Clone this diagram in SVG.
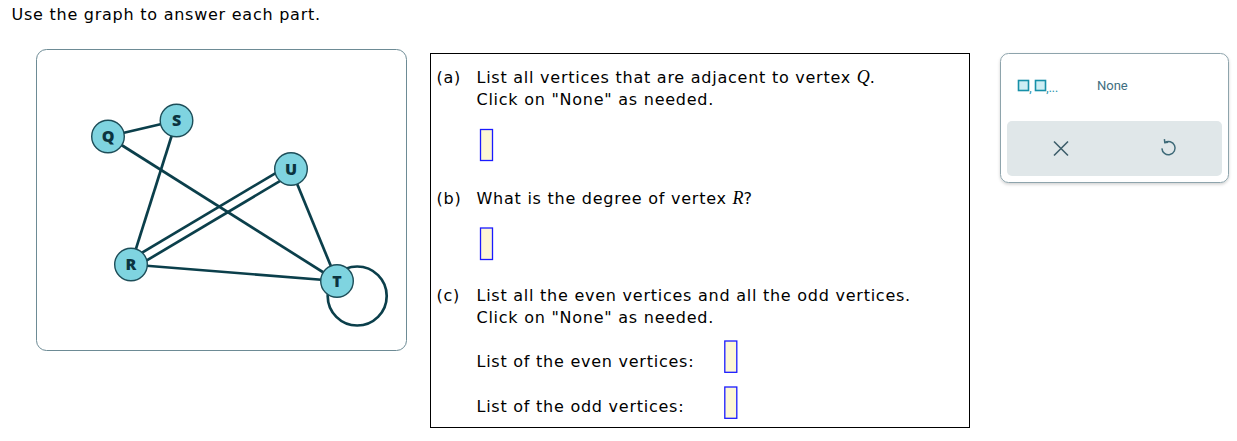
<svg xmlns="http://www.w3.org/2000/svg" width="1237" height="441" viewBox="0 0 1237 441">
<defs>
<style>
.t{font-family:"DejaVu Sans",Verdana,sans-serif;font-size:16px;letter-spacing:0.75px;fill:#000}
.m{font-family:"Liberation Serif",serif;font-style:italic;font-size:18px;letter-spacing:0}
.e{stroke:#0b3f4b;stroke-width:2.7;fill:none}
.n{fill:#7fd4e0;stroke:#1d4d58;stroke-width:1.4}
.nl{font-family:"Open Sans","Noto Sans",sans-serif;font-weight:800;font-size:16px;fill:#0b3440;text-anchor:middle}
.in{fill:#fdf7d6;stroke:#1a1aff;stroke-width:1.3}
</style>
<filter id="sh" x="-10%" y="-10%" width="120%" height="130%">
<feDropShadow dx="0" dy="1.5" stdDeviation="1.5" flood-color="#000" flood-opacity="0.18"/>
</filter>
</defs>
<rect width="1237" height="441" fill="#fff"/>
<text class="t" x="11.5" y="19.5">Use the graph to answer each part.</text>

<g id="graph-panel">
<rect x="36.5" y="49.5" width="370" height="301" rx="10" fill="#fff" stroke="#6d8b95" stroke-width="1"/>
</g>
<g id="connectors">
<line class="e" x1="108" y1="136.5" x2="176.5" y2="120.5"/>
<line class="e" x1="108" y1="136.5" x2="337" y2="281"/>
<line class="e" x1="176.5" y1="120.5" x2="131" y2="264.5"/>
<line class="e" x1="128.7" y1="260.6" x2="288.7" y2="165.3"/>
<line class="e" x1="133.3" y1="268.4" x2="293.3" y2="173.1"/>
<line class="e" x1="131" y1="264.5" x2="337" y2="281"/>
<line class="e" x1="291" y1="169" x2="337" y2="281"/>
<circle class="e" cx="357.2" cy="296" r="29.5"/>
</g>
<g id="node-Q"><circle class="n" cx="108" cy="136.5" r="16.3"/><text class="nl" x="108" y="142.2">Q</text></g>
<g id="node-S"><circle class="n" cx="176.5" cy="120.5" r="16.3"/><text class="nl" x="176.5" y="126.2">S</text></g>
<g id="node-U"><circle class="n" cx="291" cy="169" r="16.3"/><text class="nl" x="291" y="174.7">U</text></g>
<g id="node-R"><circle class="n" cx="131" cy="264.5" r="16.3"/><text class="nl" x="131" y="270.2">R</text></g>
<g id="node-T"><circle class="n" cx="337" cy="281" r="16.3"/><text class="nl" x="337" y="286.7">T</text></g>

<g id="questions">
<rect x="430.5" y="53.5" width="539" height="374" fill="#fff" stroke="#000" stroke-width="1"/>
<text class="t" x="436.5" y="83">(a)</text>
<text class="t" x="476.5" y="83">List all vertices that are adjacent to vertex <tspan class="m">Q</tspan>.</text>
<text class="t" x="476.5" y="105">Click on "None" as needed.</text>
<rect class="in" x="480.5" y="129.5" width="12" height="31"/>
<text class="t" x="436.5" y="203.5">(b)</text>
<text class="t" x="476.5" y="203.5">What is the degree of vertex <tspan class="m">R</tspan>?</text>
<rect class="in" x="480.5" y="228" width="12" height="31.5"/>
<text class="t" x="436.5" y="300.5">(c)</text>
<text class="t" x="476.5" y="300.5">List all the even vertices and all the odd vertices.</text>
<text class="t" x="476.5" y="323">Click on "None" as needed.</text>
<text class="t" x="476.5" y="366.5">List of the even vertices:</text>
<rect class="in" x="724.8" y="341" width="12" height="31.3"/>
<text class="t" x="476.5" y="411.5">List of the odd vertices:</text>
<rect class="in" x="724.8" y="387" width="12" height="31.3"/>
</g>

<g id="answer-palette">
<rect x="1000.5" y="53.5" width="228" height="129" rx="8" fill="#fff" stroke="#8ea4ac" stroke-width="1" filter="url(#sh)"/>
<rect x="1018.5" y="80.5" width="10" height="10" fill="#cdeef4" stroke="#1790a8" stroke-width="1.6"/>
<text x="1029.3" y="92" font-family="Roboto,sans-serif" font-size="12" fill="#1790a8">,</text>
<rect x="1035.5" y="80.5" width="10" height="10" fill="#cdeef4" stroke="#1790a8" stroke-width="1.6"/>
<text x="1046.3" y="92" font-family="Roboto,sans-serif" font-size="12" fill="#1790a8">,...</text>
<text x="1097" y="90" font-family="Roboto,sans-serif" font-size="13" fill="#3e6e80">None</text>
<rect x="1007" y="121" width="215" height="55" rx="5" fill="#e0e7e9"/>
<path d="M1054 141.5 L1068 155.5 M1068 141.5 L1054 155.5" stroke="#3e5f6b" stroke-width="1.6" fill="none"/>
<path d="M1164.8 142.6 A6.6 6.6 0 1 1 1161.9 148.4" stroke="#3e6a78" stroke-width="1.5" fill="none"/>
<path d="M1164.4 139.2 L1164.8 142.6 L1168.2 142.2" stroke="#3e6a78" stroke-width="1.5" fill="none"/>
</g>
</svg>
